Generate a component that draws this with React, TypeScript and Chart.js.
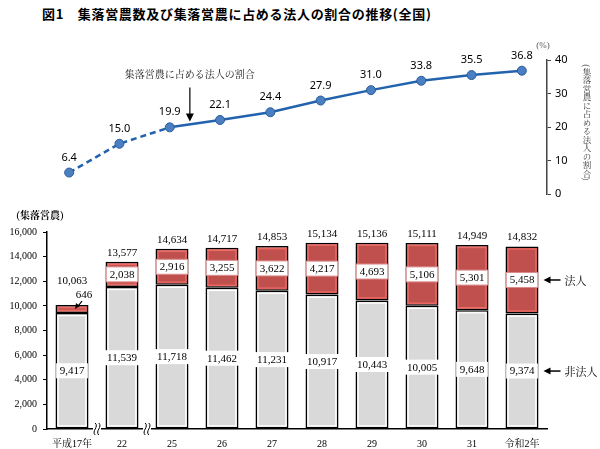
import React, { useEffect, useRef } from 'react';
import { Chart, registerables } from 'chart.js';

Chart.register(...registerables);

const categories = ['平成17年', '22', '25', '26', '27', '28', '29', '30', '31', '令和2年'];
const corpFarms = [646, 2038, 2916, 3255, 3622, 4217, 4693, 5106, 5301, 5458];
const nonCorpFarms = [9417, 11539, 11718, 11462, 11231, 10917, 10443, 10005, 9648, 9374];
const totalFarms = [10063, 13577, 14634, 14717, 14853, 15134, 15136, 15111, 14949, 14832];
const corpRatio = [6.4, 15.0, 19.9, 22.1, 24.4, 27.9, 31.0, 33.8, 35.5, 36.8];
const breakAfter = [0, 1];

const fmt = (v: number) => v.toLocaleString('en-US');
const SERIF = '"Liberation Serif", "Noto Serif CJK JP", serif';
const MINCHO = '"Noto Serif CJK JP", "Liberation Serif", serif';
const SANS = '"Noto Sans", "Noto Sans CJK JP", sans-serif';

const lineDeco = {
  id: 'lineDeco',
  afterDatasetsDraw(chart: any) {
    const ctx = chart.ctx;
    const meta = chart.getDatasetMeta(0);
    const ca = chart.chartArea;
    ctx.save();
    ctx.font = `11px ${SANS}`;
    ctx.fillStyle = '#000';
    ctx.textAlign = 'center';
    ctx.textBaseline = 'middle';
    meta.data.forEach((pt: any, i: number) => {
      ctx.fillText(corpRatio[i].toFixed(1), pt.x, pt.y - 15);
    });
    const p2 = meta.data[2];
    const p3 = meta.data[3];
    const ax = p2.x + (p3.x - p2.x) * 0.4;
    const ly = p2.y + (p3.y - p2.y) * 0.4;
    const tipY = ly - 3;
    const topY = tipY - 34;
    ctx.strokeStyle = '#000';
    ctx.lineWidth = 1.2;
    ctx.beginPath();
    ctx.moveTo(ax, topY);
    ctx.lineTo(ax, tipY - 6);
    ctx.stroke();
    ctx.beginPath();
    ctx.moveTo(ax - 4, tipY - 8);
    ctx.lineTo(ax + 4, tipY - 8);
    ctx.lineTo(ax, tipY);
    ctx.closePath();
    ctx.fill();
    ctx.font = `10px ${MINCHO}`;
    ctx.fillStyle = '#222';
    ctx.fillText('集落営農に占める法人の割合', ax, topY - 13);
    ctx.font = `9px ${SERIF}`;
    ctx.fillStyle = '#555';
    ctx.fillText('(%)', ca.right - 4, ca.top - 14);
    ctx.restore();
  },
};

const barDeco = {
  id: 'barDeco',
  afterDatasetsDraw(chart: any) {
    const ctx = chart.ctx;
    const ca = chart.chartArea;
    const m0 = chart.getDatasetMeta(0);
    const m1 = chart.getDatasetMeta(1);
    ctx.save();
    const pairs: [any, string][] = [[m0, '#ffffff'], [m1, '#ee6a64']];
    pairs.forEach(([m, col]) => {
      m.data.forEach((b: any) => {
        const { x, y, base, width } = b.getProps(['x', 'y', 'base', 'width'], true);
        const l = x - width / 2 + 2.6;
        const r = x + width / 2 - 2.6;
        const t = Math.min(y, base) + 2.6;
        const bt = Math.max(y, base) - 2.6;
        if (bt - t > 1) {
          ctx.strokeStyle = col;
          ctx.lineWidth = 1.3;
          ctx.strokeRect(l, t, r - l, bt - t);
        }
      });
    });

    ctx.font = `11px ${SERIF}`;
    ctx.textAlign = 'center';
    ctx.textBaseline = 'middle';
    const box = (text: string, cx: number, cy: number, stroke?: string) => {
      const tw = ctx.measureText(text).width;
      const w = tw + 7;
      const h = 15;
      ctx.fillStyle = '#fff';
      ctx.fillRect(cx - w / 2, cy - h / 2, w, h);
      if (stroke) {
        ctx.strokeStyle = stroke;
        ctx.lineWidth = 1;
        ctx.strokeRect(cx - w / 2, cy - h / 2, w, h);
      }
      ctx.fillStyle = '#000';
      ctx.fillText(text, cx, cy + 0.5);
    };

    categories.forEach((_, i) => {
      const g = m0.data[i].getProps(['x', 'y', 'base'], true);
      const rd = m1.data[i].getProps(['x', 'y', 'base'], true);
      box(fmt(nonCorpFarms[i]), g.x, (g.y + g.base) / 2);
      const rh = Math.abs(rd.base - rd.y);
      const top = Math.min(rd.y, rd.base);
      let totalY = top - 9;
      if (rh >= 16) {
        box(fmt(corpFarms[i]), rd.x, (rd.y + rd.base) / 2, '#d98a8a');
      } else {
        ctx.fillStyle = '#000';
        ctx.fillText(fmt(corpFarms[i]), rd.x + 12, top - 10);
        ctx.strokeStyle = '#000';
        ctx.lineWidth = 1.2;
        ctx.beginPath();
        ctx.moveTo(rd.x + 10, top - 4);
        ctx.lineTo(rd.x + 6, top + 1);
        ctx.stroke();
        ctx.beginPath();
        ctx.moveTo(rd.x + 3, top + 4);
        ctx.lineTo(rd.x + 4, top - 2);
        ctx.lineTo(rd.x + 8, top + 1);
        ctx.closePath();
        ctx.fill();
        totalY = top - 24;
      }
      ctx.fillStyle = '#000';
      ctx.fillText(fmt(totalFarms[i]), rd.x, totalY);
    });

    const last = categories.length - 1;
    const gl = m0.data[last].getProps(['x', 'y', 'base', 'width'], true);
    const rl = m1.data[last].getProps(['x', 'y', 'base', 'width'], true);
    const right = gl.x + gl.width / 2;
    ctx.font = `11px ${MINCHO}`;
    const ann = (label: string, cy: number) => {
      ctx.strokeStyle = '#000';
      ctx.fillStyle = '#000';
      ctx.lineWidth = 1.5;
      ctx.beginPath();
      ctx.moveTo(right + 11, cy);
      ctx.lineTo(right + 22, cy);
      ctx.stroke();
      ctx.beginPath();
      ctx.moveTo(right + 5, cy);
      ctx.lineTo(right + 12, cy - 3.5);
      ctx.lineTo(right + 12, cy + 3.5);
      ctx.closePath();
      ctx.fill();
      ctx.textAlign = 'left';
      ctx.fillText(label, right + 26, cy + 0.5);
    };
    ann('法人', (rl.y + rl.base) / 2);
    ann('非法人', (gl.y + gl.base) / 2);

    breakAfter.forEach((k) => {
      const xm = (m0.data[k].x + m0.data[k + 1].x) / 2;
      const y = ca.bottom;
      ctx.fillStyle = '#fff';
      ctx.fillRect(xm - 4, y - 2, 8, 4);
      ctx.strokeStyle = '#000';
      ctx.lineWidth = 1;
      [-1.8, 1.8].forEach((dx) => {
        const x = xm + dx;
        ctx.beginPath();
        ctx.moveTo(x, y - 6);
        ctx.bezierCurveTo(x + 4, y - 2, x - 4, y + 2, x, y + 6);
        ctx.stroke();
      });
    });

    ctx.fillStyle = '#000';
    ctx.textAlign = 'center';
    ctx.font = `bold 10px ${MINCHO}`;
    ctx.fillText('(集落営農)', ca.left - 7, ca.top - 17);
    ctx.restore();
  },
};

export default function App() {
  const topRef = useRef<HTMLCanvasElement>(null);
  const botRef = useRef<HTMLCanvasElement>(null);

  useEffect(() => {
    const lineChart = new Chart(topRef.current as HTMLCanvasElement, {
      type: 'line',
      data: {
        labels: categories,
        datasets: [
          {
            data: corpRatio,
            borderColor: '#2363ae',
            borderWidth: 2.5,
            pointRadius: 4.5,
            pointBackgroundColor: '#4a7fc1',
            pointBorderColor: '#2c5c9a',
            pointBorderWidth: 1,
            tension: 0,
            segment: {
              borderDash: (c: any) => (c.p1DataIndex <= 2 ? [6, 4] : undefined),
            },
          } as any,
        ],
      },
      options: {
        animation: false,
        responsive: false,
        layout: { padding: { left: 44, right: 23, top: 60, bottom: 16 } },
        plugins: { legend: { display: false }, tooltip: { enabled: false } },
        scales: {
          x: { display: false, offset: true },
          y: {
            position: 'right',
            min: 0,
            max: 40,
            ticks: { stepSize: 10, font: { size: 11, family: SANS }, color: '#000', padding: 4 },
            grid: { drawOnChartArea: false, tickLength: 4, color: '#444' },
            border: { color: '#444', width: 1.5 },
            afterFit: (s: any) => {
              s.width = 30;
            },
          },
        },
      } as any,
      plugins: [lineDeco],
    });

    const barChart = new Chart(botRef.current as HTMLCanvasElement, {
      type: 'bar',
      data: {
        labels: categories,
        datasets: [
          {
            label: '非法人',
            data: nonCorpFarms,
            backgroundColor: '#d9d9d9',
            borderColor: '#000',
            borderWidth: 1.5,
            borderSkipped: false,
            categoryPercentage: 1,
            barPercentage: 0.66,
          },
          {
            label: '法人',
            data: corpFarms,
            backgroundColor: '#c0504d',
            borderColor: '#000',
            borderWidth: 1.5,
            borderSkipped: false,
            categoryPercentage: 1,
            barPercentage: 0.66,
          },
        ],
      },
      options: {
        animation: false,
        responsive: false,
        layout: { padding: { left: 0, right: 53, top: 32, bottom: 0 } },
        plugins: { legend: { display: false }, tooltip: { enabled: false } },
        scales: {
          x: {
            stacked: true,
            grid: { display: false },
            border: { color: '#000', width: 1.5 },
            ticks: { font: { size: 10, family: SERIF }, color: '#000', padding: 1, maxRotation: 0 },
            afterFit: (s: any) => {
              s.height = 20;
            },
          },
          y: {
            stacked: true,
            min: 0,
            max: 16000,
            ticks: {
              stepSize: 2000,
              callback: (v: any) => fmt(Number(v)),
              font: { size: 10, family: SERIF },
              color: '#000',
              padding: 6,
            },
            grid: { drawOnChartArea: false, tickLength: 4, color: '#000' },
            border: { color: '#000', width: 1.5 },
            afterFit: (s: any) => {
              s.width = 47;
            },
          },
        },
      } as any,
      plugins: [barDeco],
    });

    return () => {
      lineChart.destroy();
      barChart.destroy();
    };
  }, []);

  return (
    <div style={{ position: 'absolute', left: 0, top: 0, width: 600, height: 449, background: '#fff', overflow: 'hidden' }}>
      <div
        style={{
          position: 'absolute',
          left: 42,
          top: 5,
          fontFamily: '"Noto Sans CJK JP", sans-serif',
          fontWeight: 'bold',
          fontSize: 13,
          letterSpacing: 0.7,
          color: '#000',
          whiteSpace: 'nowrap',
          lineHeight: '18px',
        }}
      >
        図1　集落営農数及び集落営農に占める法人の割合の推移(全国)
      </div>
      <canvas ref={topRef} width={600} height={210} style={{ position: 'absolute', left: 0, top: 0, width: 600, height: 210 }} />
      <div
        style={{
          position: 'absolute',
          left: 582,
          top: 64,
          writingMode: 'vertical-rl',
          fontFamily: '"Noto Serif CJK JP", serif',
          fontSize: 8.5,
          lineHeight: '10px',
          color: '#333',
          whiteSpace: 'nowrap',
        }}
      >
        (集落営農に占める法人の割合)
      </div>
      <canvas ref={botRef} width={600} height={249} style={{ position: 'absolute', left: 0, top: 200, width: 600, height: 249 }} />
    </div>
  );
}
